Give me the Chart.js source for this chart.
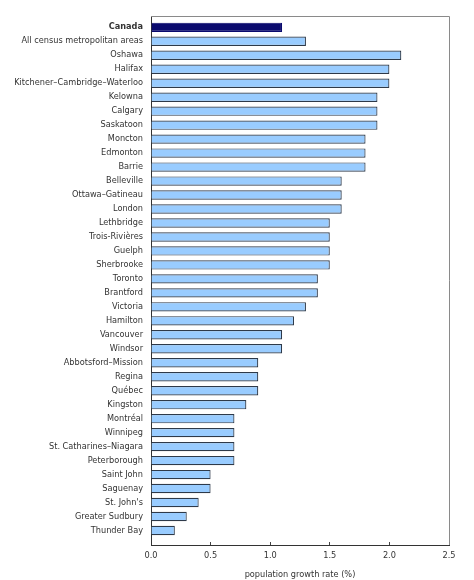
<!DOCTYPE html>
<html><head><meta charset="utf-8">
<script src="https://cdn.jsdelivr.net/npm/chart.js@4"></script>
<style>html,body{margin:0;padding:0;background:#fff}#wrap{width:474px;height:580px}</style>
</head><body><div id="wrap"><canvas id="c"></canvas></div>
<script>
const categories = ["Canada","All census metropolitan areas","Oshawa","Halifax","Kitchener–Cambridge–Waterloo","Kelowna","Calgary","Saskatoon","Moncton","Edmonton","Barrie","Belleville","Ottawa–Gatineau","London","Lethbridge","Trois-Rivières","Guelph","Sherbrooke","Toronto","Brantford","Victoria","Hamilton","Vancouver","Windsor","Abbotsford–Mission","Regina","Québec","Kingston","Montréal","Winnipeg","St. Catharines–Niagara","Peterborough","Saint John","Saguenay","St. John's","Greater Sudbury","Thunder Bay"];
const growthRates = [1.1,1.3,2.1,2.0,2.0,1.9,1.9,1.9,1.8,1.8,1.8,1.6,1.6,1.6,1.5,1.5,1.5,1.5,1.4,1.4,1.3,1.2,1.1,1.1,0.9,0.9,0.9,0.8,0.7,0.7,0.7,0.7,0.5,0.5,0.4,0.3,0.2];
const xTicks = [0,0.5,1.0,1.5,2.0,2.5];
const xTitle = "population growth rate (%)";

const FONT = "'DejaVu Sans', Verdana, sans-serif";
const fills = categories.map((c,i)=> i===0 ? '#0a0a6e' : '#99ccff');
const borders = categories.map((c,i)=> i===0 ? '#0a0a6e' : '#2e3a4a');

const framePlugin = {
  id:'frame',
  beforeDatasetsDraw(chart){
    const a = chart.chartArea, ctx = chart.ctx;
    ctx.save();
    ctx.strokeStyle = '#8a8a8a';
    ctx.lineWidth = 1;
    ctx.beginPath();
    ctx.moveTo(a.left, Math.round(a.top)+0.5);
    ctx.lineTo(Math.round(a.right)+0.5, Math.round(a.top)+0.5);
    ctx.lineTo(Math.round(a.right)+0.5, a.bottom);
    ctx.stroke();
    ctx.restore();
  }
};

new Chart(document.getElementById('c'), {
  type:'bar',
  data:{labels:categories, datasets:[{data:growthRates, backgroundColor:fills, borderColor:borders, borderWidth:1.2, barPercentage:0.67, categoryPercentage:1}]},
  options:{
    indexAxis:'y', responsive:true, maintainAspectRatio:false, animation:false,
    layout:{padding:{top:16,right:25,left:0,bottom:0}},
    plugins:{legend:{display:false}, tooltip:{enabled:false}},
    scales:{
      x:{type:'linear', min:0, max:2.5,
        afterBuildTicks(s){ s.ticks = xTicks.map(v=>({value:v})); },
        afterFit(s){ s.height = 35; },
        grid:{drawOnChartArea:false, drawTicks:true, tickLength:-3, color:'#444'},
        border:{color:'#333', width:1},
        ticks:{padding:9, color:'#333', font:{family:FONT,size:8.2}, callback:v=>v.toFixed(1)},
        title:{display:true, text:xTitle, color:'#333', font:{family:FONT,size:8.2}, padding:{top:3,bottom:0}}
      },
      y:{type:'category',
        afterBuildTicks(s){ s._startValue = -0.81; s._valueRange = 37.85; },
        afterFit(s){ s.width = 151; },
        grid:{display:false, drawTicks:false},
        border:{color:'#333', width:1},
        ticks:{padding:8, color:'#333', autoSkip:false,
          font:(ctx)=>({family:FONT,size:8.2,weight: ctx.index===0 ? 'bold':'normal'})}
      }
    }
  },
  plugins:[framePlugin]
});
</script></body></html>
